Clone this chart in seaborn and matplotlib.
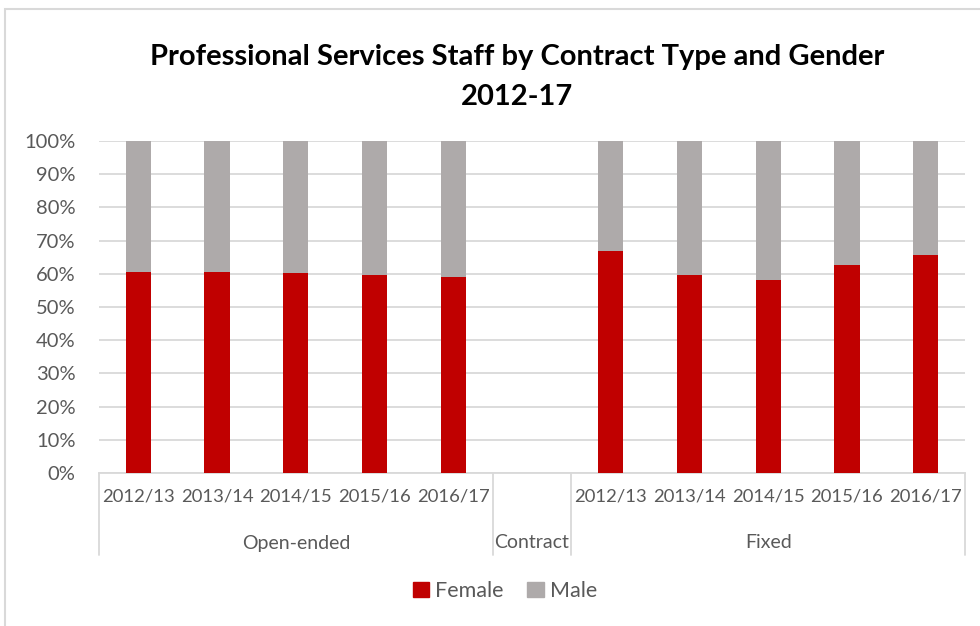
import matplotlib
matplotlib.use("Agg")
import matplotlib.pyplot as plt
from matplotlib.lines import Line2D
from matplotlib.patches import Rectangle
import seaborn as sns
import pandas as pd

# Share of staff (%) by contract type, academic year and gender
years = ["2012/13", "2013/14", "2014/15", "2015/16", "2016/17"]
groups = ["Open-ended", "Contract", "Fixed"]
female_open = [60.4, 60.6, 60.1, 59.7, 59.1]
female_fixed = [66.9, 59.7, 58.0, 62.6, 65.7]
male_open = [39.6, 39.4, 39.9, 40.3, 40.9]
male_fixed = [33.1, 40.3, 42.0, 37.4, 34.3]

RED = "#C00000"
GREY = "#AEAAAA"
TEXT = "#595959"
FONT = "Lato"

sns.set_theme(style="white")
plt.rcParams["font.family"] = [FONT, "DejaVu Sans"]

keys = [f"O {y}" for y in years] + ["gap"] + [f"F {y}" for y in years]
df = pd.DataFrame({
    "key": [f"O {y}" for y in years] + [f"F {y}" for y in years],
    "Female": female_open + female_fixed,
    "Male": male_open + male_fixed,
})
df["Total"] = df["Female"] + df["Male"]

fig = plt.figure(figsize=(9.8, 6.26), dpi=100)
ax = fig.add_axes([99 / 980, 1 - 473 / 626, (965 - 99) / 980, (473 - 141) / 626])

sns.barplot(data=df, x="key", y="Total", order=keys, color=GREY, width=0.32,
            saturation=1, ax=ax, zorder=2, linewidth=0)
sns.barplot(data=df, x="key", y="Female", order=keys, color=RED, width=0.32,
            saturation=1, ax=ax, zorder=3, linewidth=0)

ax.set_xlim(-0.5, len(keys) - 0.5)
ax.set_ylim(0, 100)
ax.set_yticks(range(0, 101, 10))
ax.set_yticklabels([f"{v}%" for v in range(0, 101, 10)], fontsize=14.5, color=TEXT)
ax.tick_params(axis="y", length=0, pad=17)
ax.grid(axis="y", color="#D9D9D9", linewidth=1.3, zorder=0)
ax.set_axisbelow(True)
for s in ["top", "right", "left"]:
    ax.spines[s].set_visible(False)
ax.spines["bottom"].set_color("#D9D9D9")
ax.spines["bottom"].set_linewidth(1.3)
ax.set_xlabel("")
ax.set_ylabel("")

# Two-level category axis: years, then contract-type groups
ax.set_xticks(range(len(keys)))
ax.set_xticklabels(years + [""] + years, fontsize=13.3, color=TEXT)
ax.tick_params(axis="x", length=0, pad=11)

px = 1 / (473 - 141)  # one pixel in axes-fraction units (vertical)
trans = ax.get_xaxis_transform()
group_spans = [(-0.5, 4.5), (4.5, 5.5), (5.5, 10.5)]
for name, (a, b) in zip(groups, group_spans):
    ax.text((a + b) / 2, -70 * px, name, transform=trans, ha="center",
            va="center", fontsize=14, color=TEXT)
for xb in [-0.5, 4.5, 5.5, 10.5]:
    ax.add_line(Line2D([xb, xb], [0, -82 * px], transform=trans, color="#D9D9D9",
                       linewidth=1.3, clip_on=False))

# Title
fig.text(517 / 980, 1 - 57 / 626, "Professional Services Staff by Contract Type and Gender",
         ha="center", va="center", fontsize=21, fontweight="bold", color="black")
fig.text(517 / 980, 1 - 97 / 626, "2012-17",
         ha="center", va="center", fontsize=21, fontweight="bold", color="black")

# Legend
handles = [Rectangle((0, 0), 1, 1, color=RED), Rectangle((0, 0), 1, 1, color=GREY)]
fig.legend(handles, ["Female", "Male"], loc="center", bbox_to_anchor=(505 / 980, 1 - 591 / 626),
           ncol=2, frameon=False, fontsize=15.5, handlelength=0.75, handleheight=0.75,
           handletextpad=0.3, columnspacing=1.1, labelcolor=TEXT)

# Chart frame
fig.add_artist(Rectangle((5 / 980, -0.1), 1.2, 1 - 9 / 626 + 0.1, transform=fig.transFigure,
                         fill=False, edgecolor="#D9D9D9", linewidth=1.5))

fig.savefig("out.png", dpi=100, facecolor="white")
